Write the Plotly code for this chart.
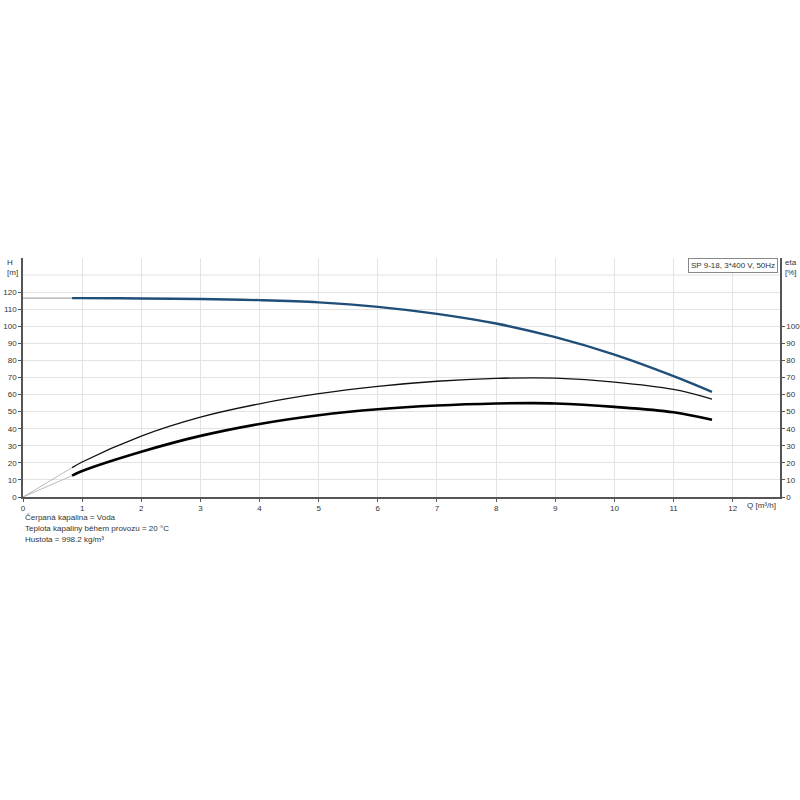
import plotly.graph_objects as go

# H curve (m) vs Q (m3/h)
q_h = [0.83, 1, 2, 3, 4, 5, 6, 7, 8, 9, 10, 11, 11.65]
h_vals = [116.5, 116.5, 116.3, 116.0, 115.3, 114.0, 111.4, 107.3, 101.6, 93.6, 83.4, 70.8, 61.6]

# eta curves (%)
q_eta = [0.83, 1, 2, 3, 4, 5, 6, 7, 8, 8.6, 9, 10, 11, 11.65]
eta_thin = [17.2, 20.5, 35.7, 46.8, 54.6, 60.5, 64.8, 67.8, 69.5, 69.8, 69.6, 67.3, 63.0, 57.4]
eta_thick = [12.5, 15.2, 26.5, 35.8, 42.8, 47.9, 51.4, 53.6, 54.8, 55.0, 54.8, 52.8, 49.6, 45.2]

x_ticks = list(range(0, 13))
h_ticks = list(range(0, 130, 10))
eta_ticks = list(range(0, 110, 10))

FONT = "Liberation Sans, Arial, sans-serif"
TXT = "#333333"
GRID = "#e3e3e3"
AXIS = "#555555"
BLUE = "#1f4e79"

fig = go.Figure()

# thin gray extension lines to origin / Q=0
fig.add_trace(go.Scatter(x=[0, q_h[0]], y=[h_vals[0], h_vals[0]], mode="lines",
                         line=dict(color="#999999", width=1), showlegend=False, hoverinfo="skip"))
fig.add_trace(go.Scatter(x=[0, q_eta[0]], y=[0, eta_thin[0]], mode="lines", yaxis="y2",
                         line=dict(color="#aaaaaa", width=0.8), showlegend=False, hoverinfo="skip"))
fig.add_trace(go.Scatter(x=[0, q_eta[0]], y=[0, eta_thick[0]], mode="lines", yaxis="y2",
                         line=dict(color="#aaaaaa", width=0.8), showlegend=False, hoverinfo="skip"))

fig.add_trace(go.Scatter(x=q_eta, y=eta_thin, mode="lines", yaxis="y2", name="eta",
                         line=dict(color="#111111", width=1.3, shape="spline", smoothing=1),
                         showlegend=False))
fig.add_trace(go.Scatter(x=q_eta, y=eta_thick, mode="lines", yaxis="y2", name="eta total",
                         line=dict(color="#000000", width=2.6, shape="spline", smoothing=1),
                         showlegend=False))
fig.add_trace(go.Scatter(x=q_h, y=h_vals, mode="lines", name="H",
                         line=dict(color=BLUE, width=2.4, shape="spline", smoothing=1),
                         showlegend=False))

# gridline at 130 without tick label
fig.add_shape(type="line", xref="paper", x0=0, x1=1, yref="y", y0=130, y1=130,
              line=dict(color=GRID, width=1), layer="below")

axis_common = dict(showline=True, linecolor=AXIS, linewidth=1.5, ticks="outside", ticklen=3,
                   tickcolor=AXIS, zeroline=False, automargin=False,
                   tickfont=dict(family=FONT, size=8, color=TXT))

fig.update_layout(
    template="none",
    width=800, height=800, autosize=False,
    margin=dict(l=23, r=20, t=258, b=303, pad=0),
    plot_bgcolor="white", paper_bgcolor="white",
    font=dict(family=FONT, size=8, color=TXT),
    xaxis=dict(range=[0, 12.8], tickvals=x_ticks, showgrid=True, gridcolor=GRID,
               gridwidth=1, **axis_common),
    yaxis=dict(range=[0, 140], tickvals=h_ticks, showgrid=True, gridcolor=GRID,
               gridwidth=1, **axis_common),
    yaxis2=dict(range=[0, 140], tickvals=eta_ticks, overlaying="y", side="right",
                showgrid=False, **axis_common),
    showlegend=False,
)

ann_font = dict(family=FONT, size=8, color=TXT)
annotations = [
    dict(text="H<br>[m]", x=0, xshift=-11, y=1.0, yshift=2, xref="paper", yref="paper",
         xanchor="center", yanchor="top", showarrow=False, align="left", font=ann_font),
    dict(text="eta<br>[%]", x=1.0, xshift=11, y=1.0, yshift=2, xref="paper", yref="paper",
         xanchor="center", yanchor="top", showarrow=False, align="left", font=ann_font),
    dict(text="Q [m³/h]", x=1.0, y=0, yshift=-2, xshift=-2, xref="paper", yref="paper",
         xanchor="right", yanchor="top", showarrow=False, font=ann_font),
    dict(text="SP 9-18, 3*400 V, 50Hz", x=1.0, y=1.0, xref="paper", yref="paper",
         xanchor="right", yanchor="top", showarrow=False, xshift=-2, font=ann_font,
         bordercolor="#888888", borderwidth=1, borderpad=2, bgcolor="white"),
]
notes = ["Čerpaná kapalina = Voda",
         "Teplota kapaliny během provozu = 20 °C",
         "Hustota = 998.2 kg/m³"]
for i, t in enumerate(notes):
    annotations.append(dict(text=t, x=0, xshift=0, y=0, yshift=-14 - 11 * i, xref="paper",
                            yref="paper", xanchor="left", yanchor="top", showarrow=False,
                            font=ann_font))
fig.update_layout(annotations=annotations)

# drop the default 8px body margin so the 800x800 figure fills the window
fig.write_html("out.html", config={"displayModeBar": False},
               post_script="document.body.style.margin='0px';")
